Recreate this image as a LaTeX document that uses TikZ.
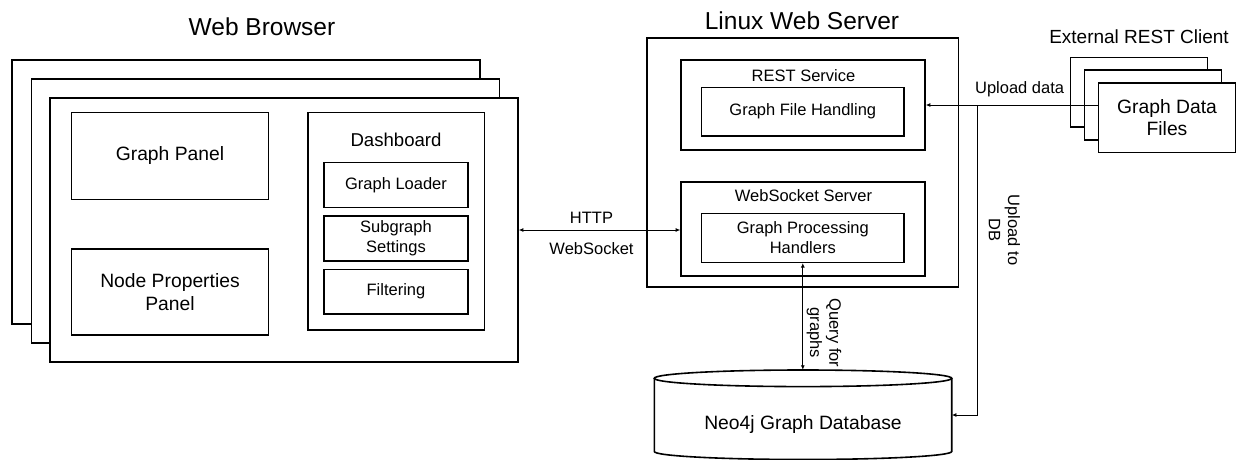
\documentclass[tikz,border=0pt]{standalone}
\usepackage{fontspec}
\setmainfont{Liberation Sans}
\usetikzlibrary{arrows.meta}
\begin{document}
\begin{tikzpicture}[x=1pt,y=-1pt,
  box/.style={draw=black, line width=1.6pt, fill=white, inner sep=0pt, align=center},
  big/.style={font=\fontsize{19.3}{22.5}\selectfont},
  small/.style={font=\fontsize{16.5}{19.4}\selectfont},
  titletext/.style={font=\fontsize{24.5}{28}\selectfont, anchor=base, inner sep=0pt},
  lbl/.style={inner sep=0pt, align=center, font=\fontsize{16.5}{19.4}\selectfont},
  arr/.style={draw=black, line width=0.8pt, -{Latex[length=4.5pt,width=4pt]}},
  dbl/.style={draw=black, line width=0.8pt, {Latex[length=4.5pt,width=4pt]}-{Latex[length=4.5pt,width=4pt]}},
]
\useasboundingbox (0,0) rectangle (1239,460);

% ---------- Web Browser ----------
\node[titletext] (wbt) at (262,36) {Web Browser};
\node[box, minimum width=468pt, minimum height=264.5pt] (r1) at (246,192) {};
\node[box, minimum width=468pt, minimum height=264.5pt] (r2) at (265.5,211) {};
\node[box, minimum width=468pt, minimum height=264.5pt] (r3) at (284,230) {};

\node[box, big, minimum width=197pt, minimum height=87pt] (gp) at (170,155.8) {Graph Panel};
\node[box, big, minimum width=197pt, minimum height=86pt] (np) at (170,292) {Node Properties\\Panel};

\node[box, minimum width=176.7pt, minimum height=217.7pt] (dash) at (396.25,221.15) {};
\node[big, inner sep=0pt, font=\fontsize{18.6}{22}\selectfont] (dasht) at (396,140) {Dashboard};
\node[box, small, minimum width=144pt, minimum height=45pt] (gl) at (396,184.8) {Graph Loader};
\node[box, small, minimum width=144pt, minimum height=45pt] (ss) at (396,238.2) {Subgraph\\Settings};
\node[box, small, minimum width=144pt, minimum height=44.7pt] (fl) at (396,291.7) {Filtering};

% ---------- Linux Web Server ----------
\node[titletext] (lwst) at (802,29.3) {Linux Web Server};
\node[box, minimum width=311.8pt, minimum height=248.4pt] (srv) at (802.6,162.5) {};
\node[box, minimum width=244pt, minimum height=90pt] (rest) at (803,105) {};
\node[lbl] (restt) at (803.5,75.3) {REST Service};
\node[box, small, minimum width=202.8pt, minimum height=48.4pt] (gfh) at (802.8,111.5) {Graph File Handling};
\node[box, minimum width=244pt, minimum height=94pt] (wss) at (803,228.7) {};
\node[lbl] (wsst) at (803.5,195.5) {WebSocket Server};
\node[box, small, minimum width=202.8pt, minimum height=49pt] (gph) at (802.8,237.8) {Graph Processing\\Handlers};

% ---------- External REST Client ----------
\node[titletext, font=\fontsize{19}{22}\selectfont] (ext) at (1139,43.3) {External REST Client};
\node[box, minimum width=137pt, minimum height=69.5pt] (fa) at (1139,92.3) {};
\node[box, minimum width=137pt, minimum height=69.5pt] (fb) at (1153,105) {};
\node[box, big, minimum width=137pt, minimum height=69.5pt] (fc) at (1167,117.7) {Graph Data\\Files};

% ---------- Neo4j database (cylinder) ----------
\draw[line width=1.6pt, fill=white] (654.3,378) -- (654.3,451.5)
  arc[start angle=180, end angle=360, x radius=148.7pt, y radius=8pt] -- (951.7,378);
\draw[line width=1.6pt, fill=white] (803,378.3) ellipse[x radius=148.7pt, y radius=8.3pt];
\node[inner sep=0pt, minimum width=297.4pt, minimum height=90pt] (db) at (803,415) {};
\node[big, inner sep=0pt] (dbt) at (803,425) {Neo4j Graph Database};

% ---------- Connectors ----------
\draw[dbl] (r3.east) -- (r3.east -| wss.west);
\node[lbl] (http) at (591.5,218.3) {HTTP};
\node[lbl] (wsock) at (591.5,248.5) {WebSocket};

\draw[dbl] (gph.south) -- (gph.south |- db.north);
\node[lbl, rotate=-90] (qry) at (824,333) {Query for\\graphs};

\draw[arr] (fb.west -| fc.west) -- (rest.east);
\node[lbl] (upd) at (1019.6,88.8) {Upload data};
\coordinate (j) at (977.4,105);
\draw[arr] (j) |- (db.east);
\node[lbl, rotate=-90] (updb) at (1004.5,230) {Upload to\\DB};

\end{tikzpicture}
\end{document}
